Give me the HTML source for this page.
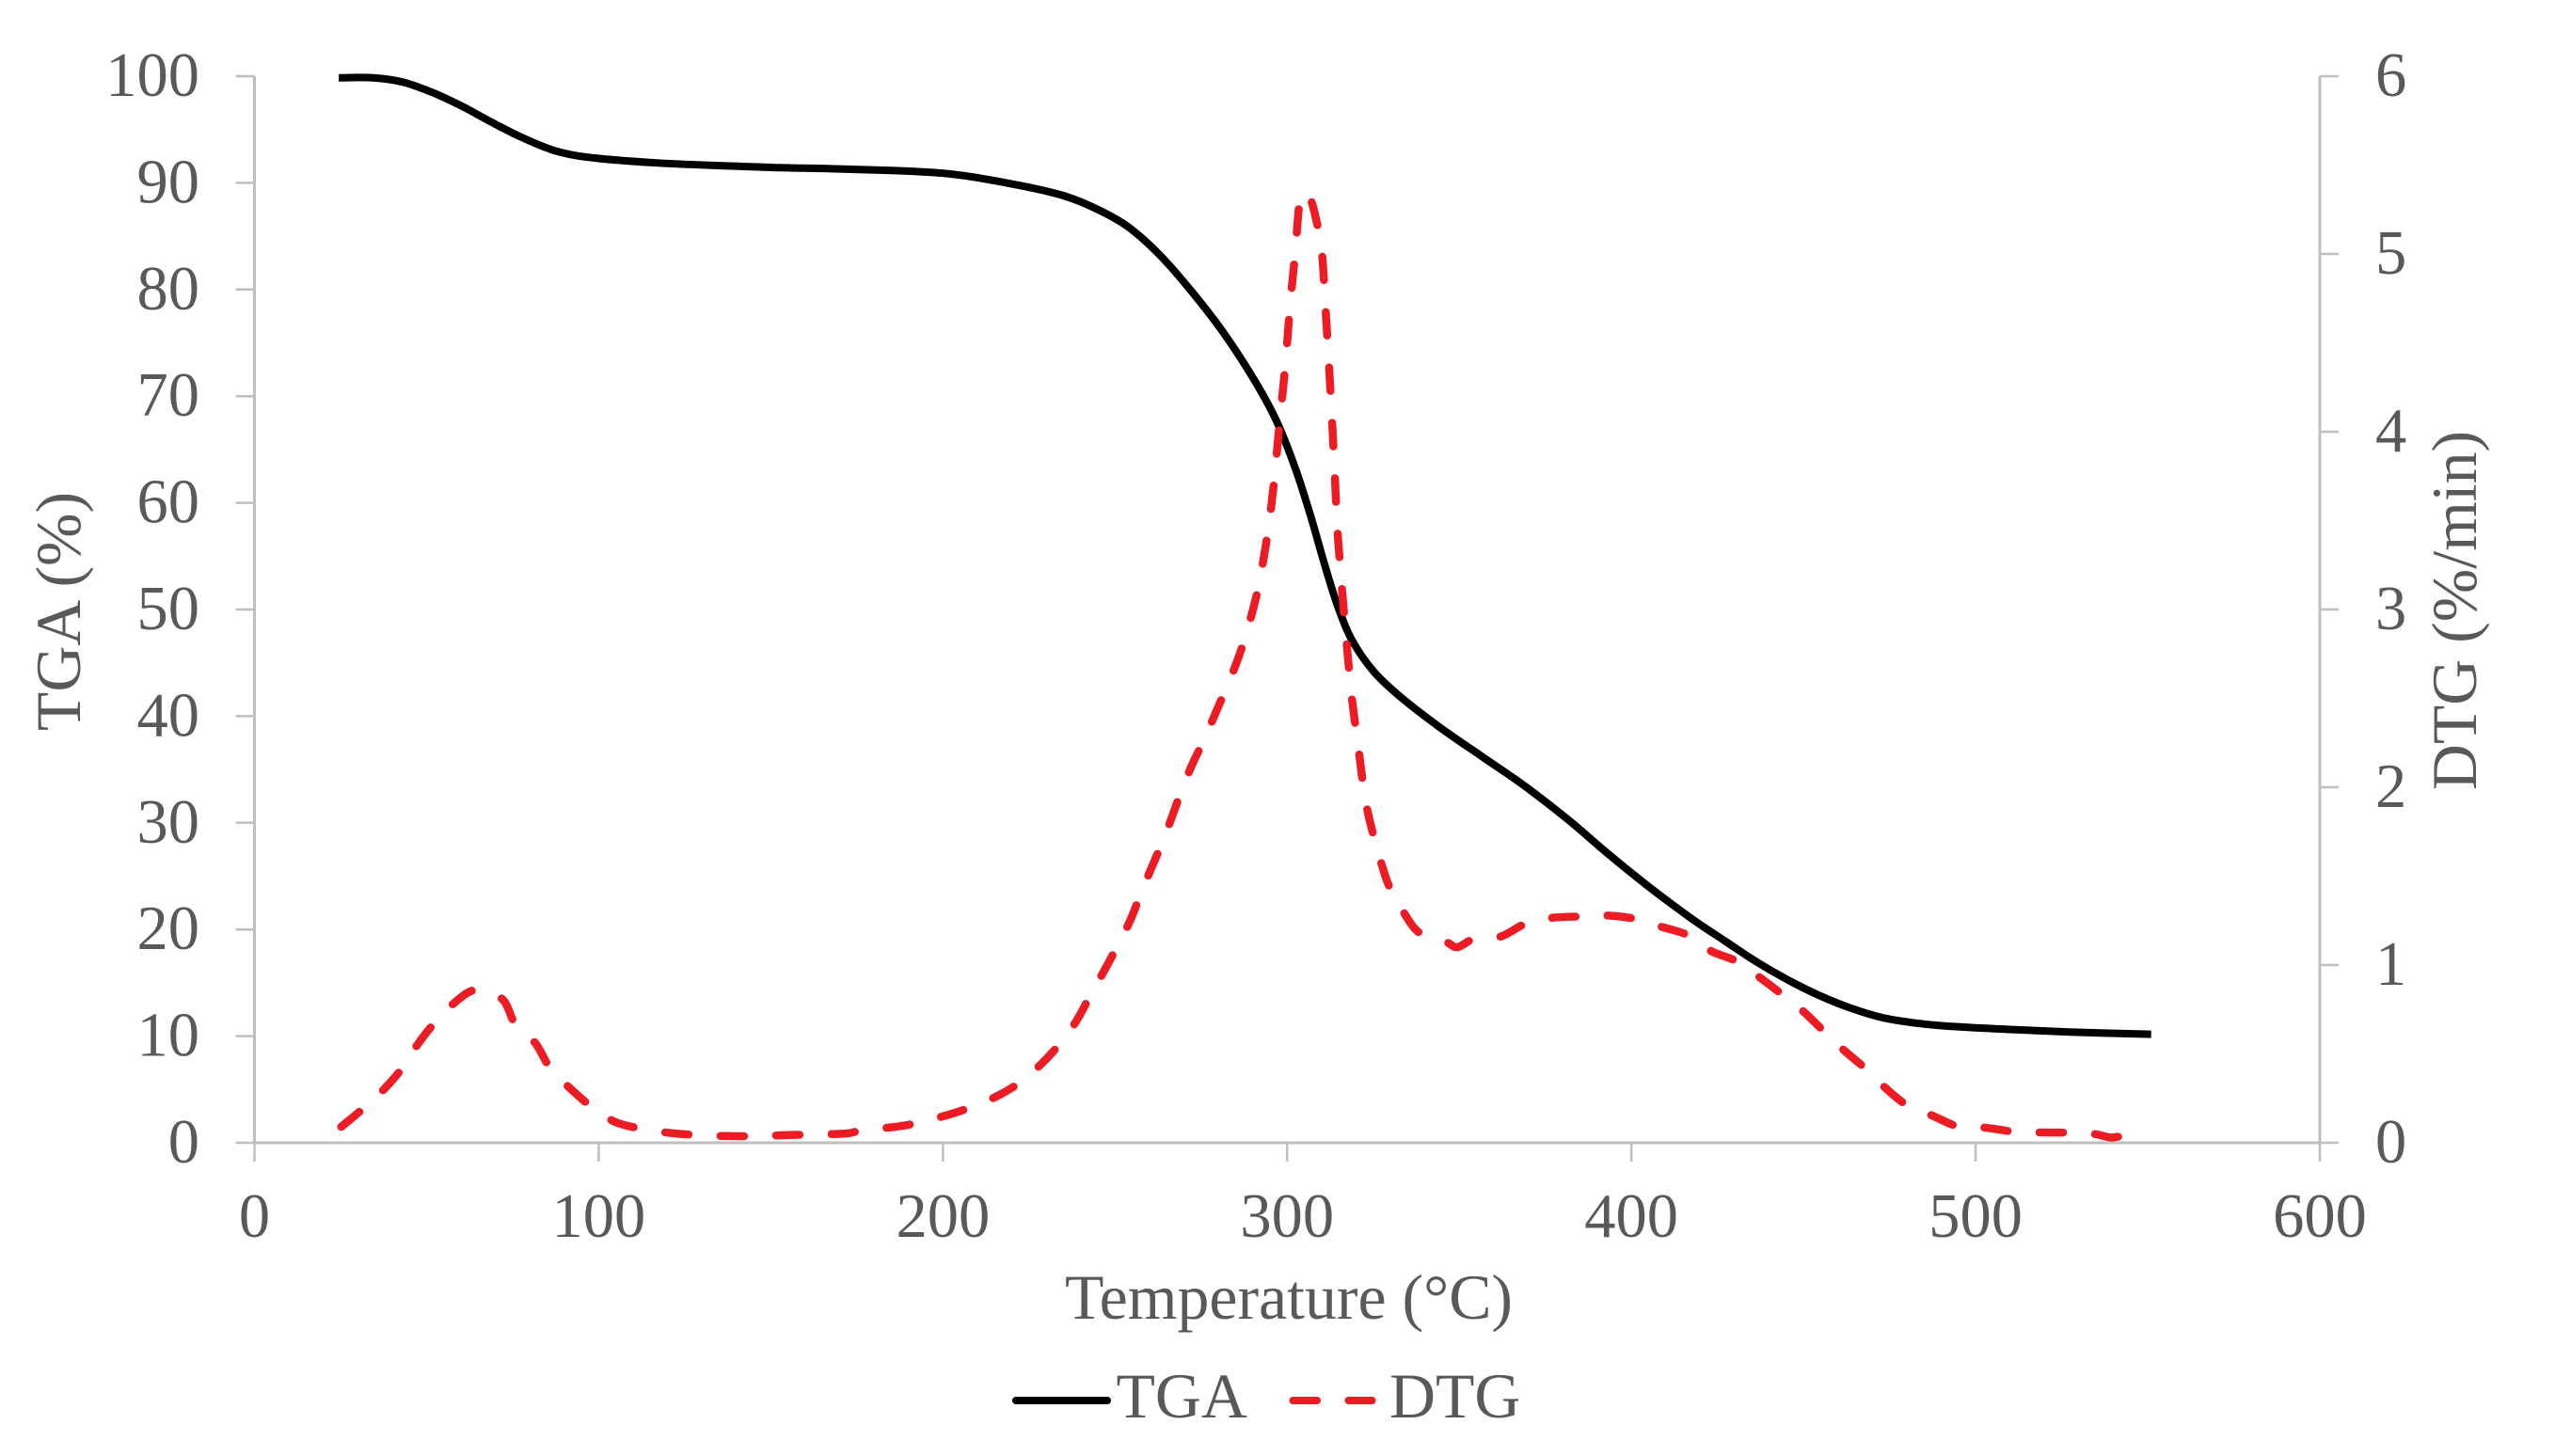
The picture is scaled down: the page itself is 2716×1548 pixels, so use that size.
<!DOCTYPE html>
<html lang="en">
<head>
<meta charset="utf-8">
<title>TGA and DTG curves</title>
<style>
html,body{margin:0;padding:0;background:#fff;}
svg{display:block;}
text{font-family:"Liberation Serif",serif;font-size:66.5px;fill:#595959;}
text.big{font-size:67.8px;}
</style>
</head>
<body>
<svg id="chart" xmlns="http://www.w3.org/2000/svg" width="2716" height="1548" viewBox="0 0 2716 1548">
  <rect x="0" y="0" width="2716" height="1548" fill="#ffffff"/>
  <g id="axes"></g>
  <g id="series"></g>
  <text class="big" x="1370" y="1402" text-anchor="middle">Temperature (°C)</text>
  <text class="big" transform="translate(85 650) rotate(-90)" text-anchor="middle">TGA (%)</text>
  <text class="big" transform="translate(2632 649) rotate(-90)" text-anchor="middle">DTG (%/min)</text>
  <g>
    <line x1="1080" y1="1489" x2="1177" y2="1489" stroke="#000000" stroke-width="8" stroke-linecap="round"/>
    <text class="big" x="1186.5" y="1507">TGA</text>
    <line x1="1374.5" y1="1489" x2="1400" y2="1489" stroke="#ed1c24" stroke-width="8" stroke-linecap="round"/>
    <line x1="1433.5" y1="1489" x2="1458.5" y2="1489" stroke="#ed1c24" stroke-width="8" stroke-linecap="round"/>
    <text class="big" x="1477" y="1507">DTG</text>
  </g>
</svg>
<script>
const xTicks = [0, 100, 200, 300, 400, 500, 600];
const tgaTicks = [0, 10, 20, 30, 40, 50, 60, 70, 80, 90, 100];
const dtgTicks = [0, 1, 2, 3, 4, 5, 6];

const tgaTemps = [24.5, 34.6, 43.2, 51.7, 60.3, 68.8, 77.4, 87.1, 96.8, 117.4, 150, 170, 200, 220, 235, 245, 254, 263.1, 272.3, 281.4, 290.3, 296.8, 302.3, 306.8, 310.9, 314.6, 318.7, 325.1, 333.3, 345, 356.9, 368.8, 381.6, 393.4, 405.3, 418, 427, 436.2, 445.3, 454.4, 463.6, 472.7, 481.7, 490.9, 509.1, 527.4, 551];
const tgaValues = [99.85, 99.85, 99.44, 98.47, 97.18, 95.7, 94.3, 93.03, 92.4, 91.86, 91.45, 91.3, 90.9, 89.9, 88.8, 87.5, 85.83, 83.2, 79.8, 76, 71.6, 67.75, 63.3, 58.8, 54.2, 50.4, 47.2, 44.2, 41.7, 38.8, 36.15, 33.5, 30.3, 27.05, 23.95, 20.9, 18.96, 17, 15.3, 13.84, 12.64, 11.75, 11.26, 10.96, 10.64, 10.38, 10.17];

const dtgTemps = [25.2, 31.4, 37.3, 42.5, 46.9, 52.1, 57.6, 64.2, 71.9, 75.8, 81.6, 85.9, 91.5, 97.7, 104.5, 112.2, 123.7, 140.2, 156.2, 172.3, 176.4, 188.7, 200.2, 207.7, 215.5, 222, 228.4, 234.1, 238.6, 242.6, 248.3, 254, 257.2, 260, 263.3, 266.1, 269.1, 272, 275.4, 278.6, 281.9, 284.9, 287.6, 289.8, 291.7, 293.1, 294.5, 295.5, 296.4, 297.9, 299.5, 300.8, 302.3, 303.8, 304.8, 306.4, 308.7, 310, 311.1, 312.1, 313, 313.8, 314.6, 315.8, 317.2, 318.7, 320.8, 323.1, 327.1, 329.7, 333.5, 338.5, 346.2, 349.3, 353.8, 362, 369, 376.8, 385, 392.4, 401.1, 408.4, 416.4, 423, 430.7, 437.3, 443.7, 449.9, 456, 461.5, 468.2, 473.6, 480.2, 487.4, 495.2, 502.7, 511.4, 519.2, 527.4, 535, 539.2, 543.3];
const dtgValues = [0.09, 0.19, 0.295, 0.41, 0.54, 0.67, 0.78, 0.86, 0.81, 0.667, 0.56, 0.42, 0.31, 0.206, 0.12, 0.08, 0.05, 0.037, 0.044, 0.053, 0.07, 0.097, 0.15, 0.197, 0.26, 0.335, 0.44, 0.56, 0.68, 0.82, 1.02, 1.233, 1.386, 1.52, 1.67, 1.81, 1.97, 2.11, 2.25, 2.39, 2.54, 2.68, 2.83, 2.98, 3.13, 3.28, 3.45, 3.6, 3.76, 4.07, 4.38, 4.7, 5, 5.32, 5.345, 5.33, 5.17, 5.03, 4.71, 4.39, 4.08, 3.77, 3.455, 3.145, 2.83, 2.52, 2.206, 1.89, 1.59, 1.44, 1.307, 1.18, 1.13, 1.1, 1.143, 1.16, 1.23, 1.265, 1.273, 1.279, 1.26, 1.217, 1.168, 1.08, 1.02, 0.93, 0.836, 0.74, 0.626, 0.525, 0.414, 0.312, 0.21, 0.153, 0.09, 0.085, 0.062, 0.058, 0.057, 0.048, 0.03, 0.04];

const svgNS = 'http://www.w3.org/2000/svg';
const axesGroup = document.getElementById('axes');
const seriesGroup = document.getElementById('series');

const plotLeft = 270.5, plotRight = 2466, plotTop = 81, plotBottom = 1215;
const xMax = xTicks[xTicks.length - 1];
const tgaMax = tgaTicks[tgaTicks.length - 1];
const dtgMax = dtgTicks[dtgTicks.length - 1];

function xScale(t) { return plotLeft + (t / xMax) * (plotRight - plotLeft); }
function tgaScale(v) { return plotBottom - (v / tgaMax) * (plotBottom - plotTop); }
function dtgScale(v) { return plotBottom - (v / dtgMax) * (plotBottom - plotTop); }

function makeLine(x1, y1, x2, y2, width) {
  const el = document.createElementNS(svgNS, 'line');
  el.setAttribute('x1', x1);
  el.setAttribute('y1', y1);
  el.setAttribute('x2', x2);
  el.setAttribute('y2', y2);
  el.setAttribute('stroke', '#bfbfbf');
  el.setAttribute('stroke-width', width);
  return el;
}

function makeLabel(x, y, anchor, content) {
  const el = document.createElementNS(svgNS, 'text');
  el.setAttribute('x', x);
  el.setAttribute('y', y);
  el.setAttribute('text-anchor', anchor);
  el.textContent = content;
  return el;
}

// Chord-length Catmull-Rom: tangents account for uneven point spacing, avoiding kinks.
function smoothPath(xs, ys) {
  const n = xs.length;
  const d = [];
  for (let i = 0; i < n - 1; i++) {
    d.push(Math.max(Math.hypot(xs[i + 1] - xs[i], ys[i + 1] - ys[i]), 0.01));
  }
  const mx = [], my = [];
  for (let i = 0; i < n; i++) {
    const a = Math.max(i - 1, 0), b = Math.min(i + 1, n - 1);
    let len = 0;
    for (let k = a; k < b; k++) { len += d[k]; }
    mx.push((xs[b] - xs[a]) / len);
    my.push((ys[b] - ys[a]) / len);
  }
  let path = 'M' + xs[0].toFixed(2) + ' ' + ys[0].toFixed(2);
  for (let i = 0; i < n - 1; i++) {
    const h = d[i] / 3;
    path += 'C' + (xs[i] + mx[i] * h).toFixed(2) + ' ' + (ys[i] + my[i] * h).toFixed(2) + ' ' +
      (xs[i + 1] - mx[i + 1] * h).toFixed(2) + ' ' + (ys[i + 1] - my[i + 1] * h).toFixed(2) + ' ' +
      xs[i + 1].toFixed(2) + ' ' + ys[i + 1].toFixed(2);
  }
  return path;
}

const leftAxis = makeLine(plotLeft, plotTop, plotLeft, plotBottom, 3);


axesGroup.appendChild(leftAxis);

const rightAxis = makeLine(plotRight, plotTop, plotRight, plotBottom, 3);


axesGroup.appendChild(rightAxis);

const bottomAxis = makeLine(plotLeft, plotBottom, plotRight, plotBottom, 3);


axesGroup.appendChild(bottomAxis);

xTicks.forEach(function (t) {
  const px = xScale(t);
  const tick = makeLine(px, plotBottom, px, plotBottom + 20, 2.5);
  
  
  axesGroup.appendChild(tick);
  const label = makeLabel(px, 1315, 'middle', String(t));
  
  
  axesGroup.appendChild(label);
});

tgaTicks.forEach(function (v) {
  const py = tgaScale(v);
  const tick = makeLine(plotLeft - 20, py, plotLeft, py, 2.5);
  
  
  axesGroup.appendChild(tick);
  const label = makeLabel(212, py + 21, 'end', String(v));
  
  
  axesGroup.appendChild(label);
});

dtgTicks.forEach(function (v) {
  const py = dtgScale(v);
  const tick = makeLine(plotRight, py, plotRight + 20, py, 2.5);
  
  
  axesGroup.appendChild(tick);
  const label = makeLabel(2525, py + 21, 'start', String(v));
  
  
  axesGroup.appendChild(label);
});

const tgaPath = document.createElementNS(svgNS, 'path');


tgaPath.setAttribute('d', smoothPath(tgaTemps.map(xScale), tgaValues.map(tgaScale)));
tgaPath.setAttribute('fill', 'none');
tgaPath.setAttribute('stroke', '#000000');
tgaPath.setAttribute('stroke-width', '8');
tgaPath.setAttribute('stroke-linejoin', 'round');
seriesGroup.appendChild(tgaPath);

const dtgPath = document.createElementNS(svgNS, 'path');


dtgPath.setAttribute('d', smoothPath(dtgTemps.map(xScale), dtgValues.map(dtgScale)));
dtgPath.setAttribute('fill', 'none');
dtgPath.setAttribute('stroke', '#ed1c24');
dtgPath.setAttribute('stroke-width', '8.5');
dtgPath.setAttribute('stroke-linecap', 'round');
dtgPath.setAttribute('stroke-linejoin', 'round');
dtgPath.setAttribute('stroke-dasharray', '25 34');
seriesGroup.appendChild(dtgPath);
</script>
</body>
</html>
